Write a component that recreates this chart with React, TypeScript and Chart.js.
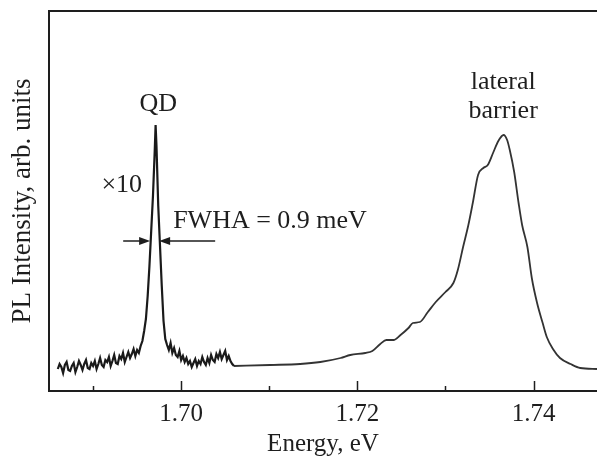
import React, { useEffect, useRef } from "react";
import { Chart, registerables } from "chart.js";

Chart.register(...registerables);

// ---- Data (energy in eV, PL intensity in arb. units) ----
const qdEnergy = [
  1.686, 1.6862, 1.6864, 1.6866, 1.6868, 1.687, 1.6872, 1.6874, 1.6876, 1.6878,
  1.688, 1.6882, 1.6884, 1.6886, 1.6888, 1.689, 1.6892, 1.6894, 1.6896, 1.6898,
  1.69, 1.6902, 1.6904, 1.6906, 1.6908, 1.691, 1.6912, 1.6914, 1.6916, 1.6918,
  1.692, 1.6922, 1.6924, 1.6926, 1.6928, 1.693, 1.6932, 1.6934, 1.6936, 1.6938,
  1.694, 1.6942, 1.6944, 1.6946, 1.6948, 1.695, 1.6952, 1.6954, 1.6956,
  1.6958, 1.696, 1.6962, 1.6964, 1.6966, 1.6968, 1.697, 1.6971, 1.6972, 1.6974,
  1.6976, 1.6978, 1.698, 1.6982, 1.6984,
  1.6986, 1.6988, 1.699, 1.6992, 1.6994, 1.6996, 1.6998, 1.7, 1.7002, 1.7004,
  1.7006, 1.7008, 1.701, 1.7012, 1.7014, 1.7016, 1.7018, 1.702, 1.7022, 1.7024,
  1.7026, 1.7028, 1.703, 1.7032, 1.7034, 1.7036, 1.7038, 1.704, 1.7042, 1.7044,
  1.7046, 1.7048, 1.705, 1.7052, 1.7054, 1.7056, 1.7058, 1.706,
];
const qdIntensity = [
  22, 27, 24, 18, 26, 29, 21, 20, 25, 28,
  19, 24, 30, 26, 21, 27, 31, 23, 22, 28,
  25, 30, 22, 27, 33, 26, 24, 31, 29, 34,
  25, 30, 36, 28, 27, 35, 32, 38, 29, 34,
  39, 33, 37, 42, 35, 41, 38, 45, 50,
  60, 72, 95, 125, 160, 195, 240, 266, 245, 185,
  145, 105, 70, 52, 46,
  41, 48, 38, 43, 36, 34, 40, 31, 35, 29,
  33, 27, 30, 24, 28, 32, 25, 30, 27, 34,
  29, 26, 33, 28, 36, 31, 29, 37, 33, 39,
  32, 36, 40, 31, 35, 30, 27, 25,
];
const barrierEnergy = [
  1.706, 1.7101, 1.7135, 1.7158, 1.7181, 1.7192, 1.7209, 1.7217, 1.7226, 1.7233,
  1.7241, 1.7249, 1.7258, 1.7263, 1.7271, 1.728, 1.7289, 1.73, 1.7309, 1.7314,
  1.732, 1.7326, 1.7331, 1.7337, 1.7343, 1.7348, 1.7354, 1.736, 1.7366, 1.737,
  1.7373, 1.7378, 1.7383, 1.7387, 1.7393, 1.7398, 1.7404, 1.741, 1.7415, 1.7422,
  1.743, 1.7442, 1.7453, 1.7472,
];
const barrierIntensity = [
  25, 26, 27, 29, 33, 36, 38, 40, 47, 51,
  51, 56, 63, 68, 69, 79, 89, 99, 108, 121,
  144, 166, 188, 216, 223, 226, 238, 250, 256, 251,
  241, 219, 188, 166, 144, 113, 88, 69, 54, 42,
  33, 27, 23, 22,
];

const xTickValues = [1.69, 1.7, 1.71, 1.72, 1.73, 1.74];
const xTickLabels = ["", "1.70", "", "1.72", "", "1.74"];
const xMin = 1.685;
const xMax = 1.7472;
const yMin = 0;
const yMax = 380;

// annotations: text, anchor energy, anchor intensity (baseline), alignment
const noteTexts = ["QD", "\u00d710", "FWHA = 0.9 meV", "lateral", "barrier"];
const noteEnergy = [1.69739, 1.69557, 1.69909, 1.73655, 1.73655];
const noteIntensity = [280, 199, 163, 302, 273];
const noteAlign = ["center", "right", "left", "center", "center"];
// FWHM arrows: [from, to] energies at a given intensity
const arrowLeft = [1.69342, 1.69648];
const arrowRight = [1.70386, 1.6975];
const arrowLevel = 150;

const FONT = '"Liberation Serif", "Times New Roman", serif';
const INK = "#1e1e1e";

const framePlugin = {
  id: "frameTicks",
  afterDraw(chart: any) {
    const { ctx, chartArea: a, scales } = chart;
    const xs = scales.x;
    ctx.save();
    ctx.strokeStyle = INK;
    ctx.lineWidth = 2;
    ctx.beginPath();
    ctx.moveTo(a.right + 2, a.top);
    ctx.lineTo(a.left, a.top);
    ctx.lineTo(a.left, a.bottom);
    ctx.lineTo(a.right + 2, a.bottom);
    ctx.stroke();
    ctx.lineWidth = 1.5;
    xTickValues.forEach((v, i) => {
      const px = Math.round(xs.getPixelForValue(v)) + 0.5;
      const len = xTickLabels[i] ? 10 : 5;
      ctx.beginPath();
      ctx.moveTo(px, a.bottom);
      ctx.lineTo(px, a.bottom - len);
      ctx.stroke();
    });
    ctx.restore();
  },
};

function arrow(ctx: any, x0: number, x1: number, y: number) {
  const dir = Math.sign(x1 - x0);
  ctx.beginPath();
  ctx.moveTo(x0, y);
  ctx.lineTo(x1 - dir * 8, y);
  ctx.stroke();
  ctx.beginPath();
  ctx.moveTo(x1, y);
  ctx.lineTo(x1 - dir * 11, y - 4);
  ctx.lineTo(x1 - dir * 11, y + 4);
  ctx.closePath();
  ctx.fill();
}

const notePlugin = {
  id: "notes",
  afterDatasetsDraw(chart: any) {
    const { ctx, scales } = chart;
    const xs = scales.x;
    const ys = scales.y;
    ctx.save();
    ctx.fillStyle = INK;
    ctx.strokeStyle = INK;
    ctx.font = `26px ${FONT}`;
    ctx.textBaseline = "alphabetic";
    noteTexts.forEach((t, i) => {
      ctx.textAlign = noteAlign[i];
      ctx.fillText(t, xs.getPixelForValue(noteEnergy[i]), ys.getPixelForValue(noteIntensity[i]));
    });
    ctx.lineWidth = 1.5;
    const ay = ys.getPixelForValue(arrowLevel);
    arrow(ctx, xs.getPixelForValue(arrowLeft[0]), xs.getPixelForValue(arrowLeft[1]), ay);
    arrow(ctx, xs.getPixelForValue(arrowRight[0]), xs.getPixelForValue(arrowRight[1]), ay);
    ctx.restore();
  },
};

export default function App() {
  const ref = useRef<HTMLCanvasElement>(null);
  useEffect(() => {
    if (!ref.current) return;
    const chart = new Chart(ref.current, {
      type: "line",
      data: {
        datasets: [
          {
            data: qdEnergy.map((e, i) => ({ x: e, y: qdIntensity[i] })),
            borderColor: "#1a1a1a",
            borderWidth: 2.2,
            borderJoinStyle: "miter",
            pointRadius: 0,
            tension: 0,
            fill: false,
          },
          {
            data: barrierEnergy.map((e, i) => ({ x: e, y: barrierIntensity[i] })),
            borderColor: "#333333",
            borderWidth: 1.8,
            pointRadius: 0,
            cubicInterpolationMode: "monotone",
            fill: false,
          },
        ],
      },
      options: {
        animation: false,
        responsive: false,
        layout: { padding: { top: 11, left: 0, right: 0, bottom: 0 } },
        plugins: { legend: { display: false }, tooltip: { enabled: false } },
        scales: {
          x: {
            type: "linear",
            min: xMin,
            max: xMax,
            afterBuildTicks: (s: any) => {
              s.ticks = xTickValues.map((v) => ({ value: v }));
            },
            afterFit: (s: any) => {
              s.height = 71;
            },
            grid: { display: false, drawTicks: false },
            border: { display: false },
            ticks: {
              padding: 8,
              color: INK,
              maxRotation: 0,
              autoSkip: false,
              font: { family: FONT, size: 25 },
              callback: (_v: any, i: number) => xTickLabels[i],
            },
            title: {
              display: true,
              text: "Energy, eV",
              color: INK,
              font: { family: FONT, size: 25 },
              padding: { top: 0, bottom: 3 },
            },
          },
          y: {
            type: "linear",
            min: yMin,
            max: yMax,
            afterFit: (s: any) => {
              s.width = 49;
            },
            grid: { display: false, drawTicks: false },
            border: { display: false },
            ticks: { display: false },
            title: {
              display: true,
              text: "PL Intensity, arb. units",
              color: INK,
              font: { family: FONT, size: 27 },
              padding: { top: 7, bottom: 0 },
            },
          },
        },
      },
      plugins: [framePlugin, notePlugin],
    });
    return () => chart.destroy();
  }, []);
  return (
    <canvas
      ref={ref}
      width={597}
      height={462}
      style={{ position: "absolute", left: 0, top: 0, display: "block", background: "#fff" }}
    />
  );
}
